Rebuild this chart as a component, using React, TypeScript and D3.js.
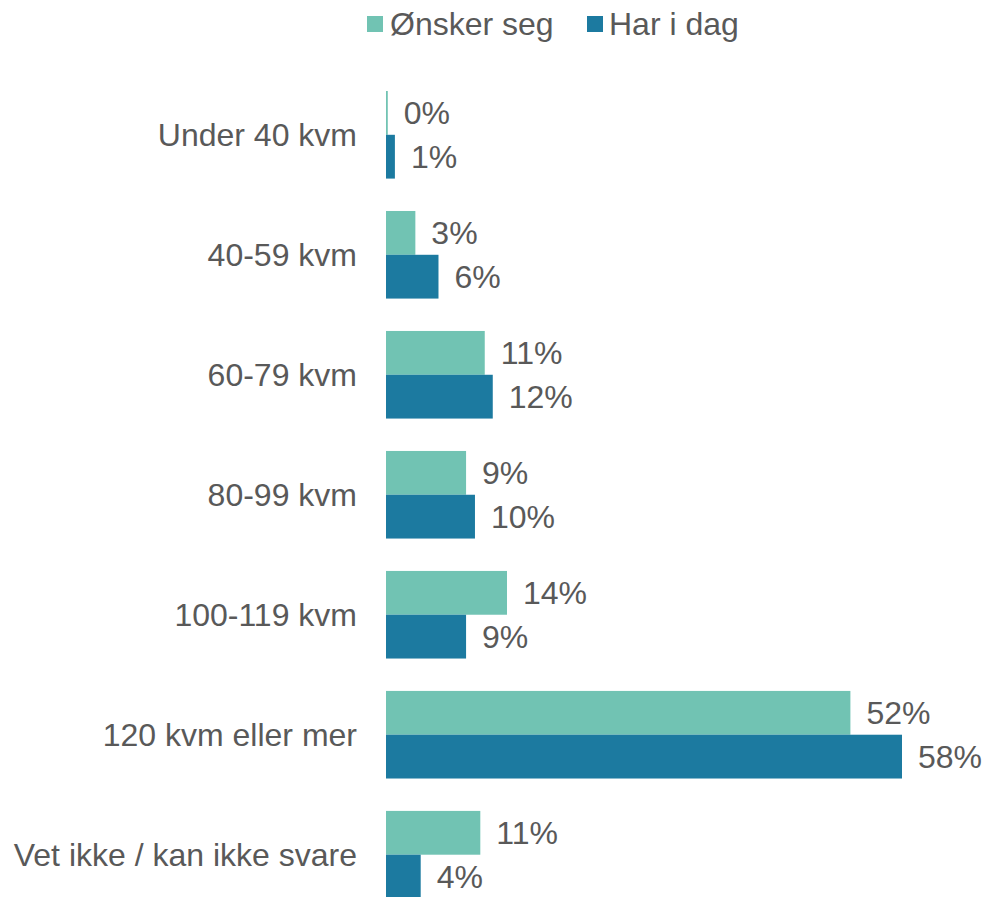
import React from 'react';
import * as d3 from 'd3';

// Survey data: apartment size wanted vs. size today (percent)
const categories = [
  'Under 40 kvm',
  '40-59 kvm',
  '60-79 kvm',
  '80-99 kvm',
  '100-119 kvm',
  '120 kvm eller mer',
  'Vet ikke / kan ikke svare',
];
const seriesNames = ['Ønsker seg', 'Har i dag'];
const onskerSeg = [0.2, 3.3, 11.1, 9.0, 13.6, 52.2, 10.6];
const harIDag = [1.0, 5.9, 12.0, 10.0, 9.0, 58.0, 3.9];

const colors = ['#71c3b3', '#1c7aa0'];
const textColor = '#595959';
const font = '"Liberation Sans", Arial, sans-serif';
const fontSize = 32;

const width = 987;
const height = 897;

const App = () => {
  const x = d3.scaleLinear().domain([0, 58]).range([386, 902]);

  const y = d3.scaleBand<string>()
    .domain(categories)
    .range([91, 898.5])
    .paddingInner(0.27)
    .paddingOuter(0);

  const sub = d3.scaleBand<number>()
    .domain([0, 1])
    .range([0, y.bandwidth()]);

  const series = [onskerSeg, harIDag];

  return (
    <svg
      width={width}
      height={height}
      style={{ position: 'absolute', left: 0, top: 0, fontFamily: font }}
    >
      {/* legend */}
      <g>
        <rect x={367} y={16} width={16} height={16} fill={colors[0]} />
        <text x={390} y={35} fontSize={fontSize} fill={textColor}>{seriesNames[0]}</text>
        <rect x={587} y={16} width={16} height={16} fill={colors[1]} />
        <text x={609} y={35} fontSize={fontSize} fill={textColor}>{seriesNames[1]}</text>
      </g>

      {/* category labels */}
      {categories.map(c => (
        <text
          key={c}
          x={357}
          y={(y(c) ?? 0) + y.bandwidth() / 2}
          dy="0.35em"
          textAnchor="end"
          fontSize={fontSize}
          fill={textColor}
        >
          {c}
        </text>
      ))}

      {/* bars and value labels */}
      {series.map((vals, si) => (
        <g key={si}>
          {vals.map((v, i) => {
            const yy = (y(categories[i]) ?? 0) + (sub(si) ?? 0);
            return (
              <g key={i}>
                <rect
                  x={x(0)}
                  y={yy}
                  width={x(v) - x(0)}
                  height={sub.bandwidth()}
                  fill={colors[si]}
                />
                <text
                  x={x(v) + 16}
                  y={yy + sub.bandwidth() / 2}
                  dy="0.35em"
                  fontSize={fontSize}
                  fill={textColor}
                >
                  {Math.round(v) + '%'}
                </text>
              </g>
            );
          })}
        </g>
      ))}
    </svg>
  );
};

export default App;
